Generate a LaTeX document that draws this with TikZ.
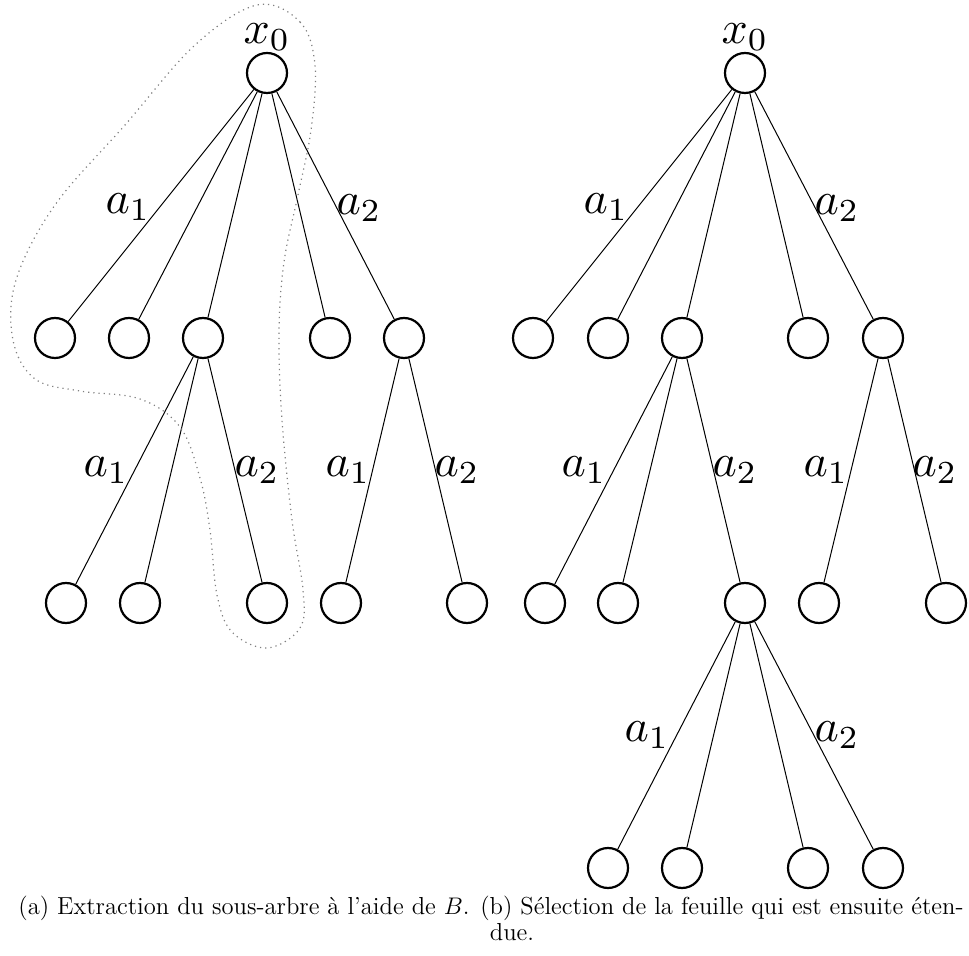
\documentclass[tikz,border=0pt]{standalone}
\usepackage{fontspec}
\usepackage{graphicx}
\newcommand{\trlab}[1]{\scalebox{2.3}{$#1$}}
\begin{document}
\begin{tikzpicture}[x=0.5pt,y=-0.5pt,
  vtx/.style={circle,draw,line width=1.1pt,minimum size=20pt,inner sep=0pt},
  edg/.style={line width=0.5pt},
  lab/.style={inner sep=0pt},
  hull/.style={gray,dotted,line width=0.6pt}]
\useasboundingbox (0,0) rectangle (969,956);
% ---------- left tree ----------
\node[vtx] (Lr) at (267,73) {};
\node[vtx] (L1) at (55,338) {};
\node[vtx] (L2) at (129,338) {};
\node[vtx] (L3) at (203,338) {};
\node[vtx] (L4) at (330,338) {};
\node[vtx] (L5) at (404,338) {};
\node[vtx] (L31) at (66,603) {};
\node[vtx] (L32) at (140,603) {};
\node[vtx] (L33) at (267,603) {};
\node[vtx] (L51) at (341,603) {};
\node[vtx] (L52) at (467,603) {};
\foreach \c in {L1,L2,L3,L4,L5} \draw[edg] (Lr) -- (\c);
\foreach \c in {L31,L32,L33} \draw[edg] (L3) -- (\c);
\foreach \c in {L51,L52} \draw[edg] (L5) -- (\c);
\node[lab] (Lx) at (267,37) {\trlab{x_0}};
\node[lab] (La1) at (128,207) {\trlab{a_1}};
\node[lab] (La2) at (359,208) {\trlab{a_2}};
\node[lab] (La3) at (106,470) {\trlab{a_1}};
\node[lab] (La4) at (257,470) {\trlab{a_2}};
\node[lab] (La5) at (348,470) {\trlab{a_1}};
\node[lab] (La6) at (457,470) {\trlab{a_2}};
% dotted hull
\draw[hull] plot[smooth cycle,tension=0.6] coordinates {
 (257,5) (300,22) (315,65) (311,130) (298,195) (284,262) (279,333)
 (282,420) (292,520) (303,590) (300,628) (267,648) (232,632) (217,595)
 (210,530) (200,478) (180,427) (140,399) (80,391) (35,379) (13,340)
 (16,280) (55,205) (125,125) (195,45)};
% ---------- right tree ----------
\node[vtx] (Rr) at (745,73) {};
\node[vtx] (R1) at (533,338) {};
\node[vtx] (R2) at (608,338) {};
\node[vtx] (R3) at (682,338) {};
\node[vtx] (R4) at (808,338) {};
\node[vtx] (R5) at (883,338) {};
\node[vtx] (R31) at (545,603) {};
\node[vtx] (R32) at (618,603) {};
\node[vtx] (R33) at (745,603) {};
\node[vtx] (R51) at (819,603) {};
\node[vtx] (R52) at (946,603) {};
\node[vtx] (R331) at (608,868) {};
\node[vtx] (R332) at (682,868) {};
\node[vtx] (R333) at (808,868) {};
\node[vtx] (R334) at (883,868) {};
\foreach \c in {R1,R2,R3,R4,R5} \draw[edg] (Rr) -- (\c);
\foreach \c in {R31,R32,R33} \draw[edg] (R3) -- (\c);
\foreach \c in {R51,R52} \draw[edg] (R5) -- (\c);
\foreach \c in {R331,R332,R333,R334} \draw[edg] (R33) -- (\c);
\node[lab] (Rx) at (745,37) {\trlab{x_0}};
\node[lab] (Ra1) at (606,207) {\trlab{a_1}};
\node[lab] (Ra2) at (837,208) {\trlab{a_2}};
\node[lab] (Ra3) at (584,470) {\trlab{a_1}};
\node[lab] (Ra4) at (735,470) {\trlab{a_2}};
\node[lab] (Ra5) at (826,470) {\trlab{a_1}};
\node[lab] (Ra6) at (935,470) {\trlab{a_2}};
\node[lab] (Ra7) at (647,735) {\trlab{a_1}};
\node[lab] (Ra8) at (837,735) {\trlab{a_2}};
% ---------- caption ----------
\node[align=center,font=\fontsize{12.3}{10.5}\selectfont,inner sep=0pt,anchor=base] (cap) at (491,940)
 {(a) Extraction du sous-arbre à l'aide de $B$. (b) Sélection de la feuille qui est ensuite éten-\\\hspace*{21pt}due.};
\end{tikzpicture}
\end{document}
